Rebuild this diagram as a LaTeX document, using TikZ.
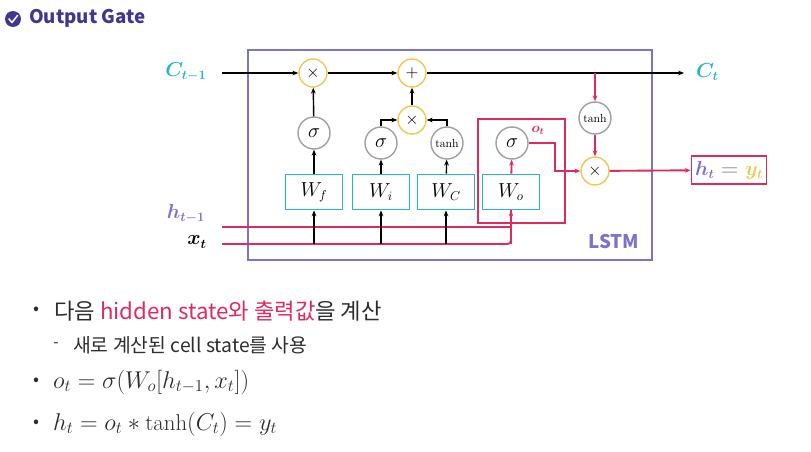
\documentclass[tikz,border=0pt]{standalone}
\usepackage{fontspec}
\usepackage{amsmath, bm}
\newfontfamily\kr{Noto Sans CJK KR}
\usetikzlibrary{arrows.meta, positioning}
\definecolor{gatepurple}{RGB}{62, 56, 142}
\definecolor{lstmblue}{RGB}{124, 116, 204}
\definecolor{cellteal}{RGB}{38, 184, 194}
\definecolor{outred}{RGB}{222, 42, 92}
\definecolor{opyellow}{RGB}{240, 200, 80}
\definecolor{fngray}{RGB}{160, 160, 160}
\definecolor{txtgray}{RGB}{45, 45, 45}

\begin{document}
\begin{tikzpicture}[
  x=0.03cm, y=-0.03cm,
  >={Stealth[length=5pt, width=4pt]},
  pointop/.style={circle, draw=opyellow, line width=1.2pt, minimum size=0.84cm, inner sep=0pt, font=\fontsize{14}{14}\selectfont},
  actfn/.style={circle, draw=fngray, line width=1.2pt, minimum size=0.96cm, inner sep=0pt, font=\fontsize{17}{17}\selectfont},
  smallfn/.style={actfn, font=\fontsize{10}{10}\selectfont},
  wbox/.style={draw=cellteal, line width=1.6pt, minimum width=1.71cm, minimum height=1.05cm, inner sep=0pt, font=\fontsize{16}{16}\selectfont},
  flow/.style={->, line width=1.2pt, black},
  redflow/.style={line width=1.6pt, outred},
  bigmath/.style={font=\fontsize{16}{16}\selectfont\boldmath},
  bullet/.style={font=\kr\fontsize{15}{15}\selectfont, text=txtgray}
]
  \useasboundingbox (0,0) rectangle (811,452);

  % title
  \fill[gatepurple] (13,19) circle (8);
  \draw[white, line width=1.3pt, line cap=round, line join=round] (9,19) -- (12,22.5) -- (17.5,15.5);
  \node[anchor=west, font=\kr\bfseries\fontsize{16}{16}\selectfont, text=gatepurple] (title) at (25,18) {Output Gate};

  % cell frame
  \draw[lstmblue, line width=1.6pt] (248,50) rectangle (652,260);
  \node[font=\kr\bfseries\fontsize{16}{16}\selectfont, text=lstmblue] (lstm) at (614,242) {LSTM};
  \draw[outred, line width=1.6pt] (478,119) rectangle (565,223);

  % inputs and outputs
  \node[bigmath, text=cellteal] (clabel) at (186,72) {$C_{t-1}$};
  \node[bigmath, text=lstmblue] (hlabel) at (186,214) {$h_{t-1}$};
  \node[bigmath, text=black] (xlabel) at (197,242) {$x_t$};
  \coordinate (cin) at (222,73);
  \coordinate (cout) at (684,73);
  \coordinate (hin) at (222,227);
  \coordinate (xin) at (222,244);
  \node[bigmath, text=cellteal, anchor=west] (ctlabel) at (692,72) {$C_t$};

  % gate operations
  \node[pointop] (fmul) at (313,73) {$\times$};
  \node[pointop] (add) at (412,73) {$+$};
  \node[pointop] (imul) at (412,120) {$\times$};
  \node[pointop] (hmul) at (595,171) {$\times$};
  \node[actfn] (fsig) at (314,133) {$\sigma$};
  \node[actfn] (isig) at (381,143) {$\sigma$};
  \node[smallfn] (ctanh) at (447,143) {tanh};
  \node[actfn] (osig) at (512,143) {$\sigma$};
  \node[smallfn] (htanh) at (595,118) {tanh};
  \node[wbox] (wf) at (314,192) {$W_f$};
  \node[wbox] (wi) at (381,192) {$W_i$};
  \node[wbox] (wc) at (446,192) {$W_C$};
  \node[wbox] (wo) at (511,192) {$W_o$};
  \node[draw=outred, line width=1.6pt, minimum width=2.25cm, minimum height=0.84cm, inner sep=0pt,
        font=\fontsize{16}{16}\selectfont\boldmath] (hbox) at (729,170)
        {$\color{lstmblue}h_t\color{fngray}=\color{opyellow}y_t$};
  \node[font=\fontsize{12}{12}\selectfont\boldmath, text=outred] (olabel) at (538,130) {$o_t$};

  % cell state
  \draw[flow] (cin) -- (fmul);
  \draw[flow] (fmul) -- (add);
  \draw[flow] (add) -- (cout);
  \draw[flow] (fsig) -- (fmul);
  \draw[flow] (imul) -- (add);
  \draw[flow] (isig.north) |- (imul.west);
  \draw[flow] (ctanh.north) |- (imul.east);

  % weights
  \foreach \w/\f in {wf/fsig, wi/isig, wc/ctanh}
    \draw[flow] (\w) -- (\f);
  \draw[redflow] (hin) -- (hin -| wo.south) [rounded corners=3pt] -- (wo.south);
  \draw[redflow, rounded corners=3pt] (xin) -| (wo.south);
  \draw[redflow, ->] (xin -| wo.south) -- (wo.south);
  \foreach \w in {wf, wi, wc}
    \draw[flow] (xin -| \w.south) -- (\w.south);

  % output gate
  \coordinate (tap) at (595,73);
  \coordinate (turn) at (555,143);
  \draw[redflow, ->] (wo) -- (osig);
  \draw[redflow, ->] (tap) -- (htanh);
  \draw[redflow, ->] (htanh) -- (hmul);
  \draw[redflow, ->] (osig.east) -- (turn) |- (hmul.west);
  \draw[redflow, ->] (hmul) -- (hbox);

  % notes
  \node[bullet] (b1) at (36,311) {•};
  \node[anchor=west, font=\kr\fontsize{19}{19}\selectfont, text=txtgray] (n1) at (50,311)
    {다음 \textcolor{outred}{hidden state와 출력값}을 계산};
  \node[font=\kr\fontsize{13}{13}\selectfont, text=txtgray] (dash) at (56,345) {-};
  \node[anchor=west, font=\kr\fontsize{16.5}{16.5}\selectfont, text=txtgray] (n2) at (69,345)
    {새로 계산된 cell state를 사용};
  \node[bullet] (b2) at (36,382) {•};
  \node[anchor=west, font=\fontsize{19.5}{19.5}\selectfont, text=txtgray] (n3) at (49,382)
    {$o_t = \sigma(W_o[h_{t-1}, x_t])$};
  \node[bullet] (b3) at (36,424) {•};
  \node[anchor=west, font=\fontsize{19.5}{19.5}\selectfont, text=txtgray] (n4) at (49,424)
    {$h_t = o_t * \tanh(C_t) = y_t$};
\end{tikzpicture}
\end{document}
